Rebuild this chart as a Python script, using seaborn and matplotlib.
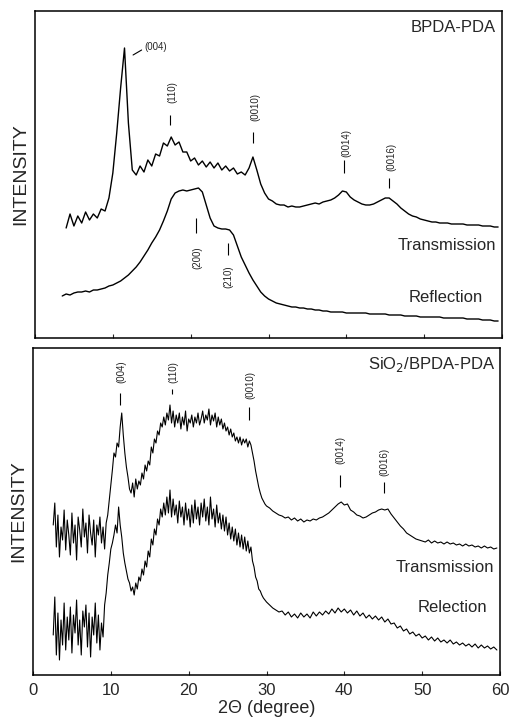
import numpy as np
import matplotlib
matplotlib.use("Agg")
import matplotlib.pyplot as plt
import seaborn as sns

# BPDA-PDA scans: start angle and step (degrees 2-theta)
top_trans_start, top_refl_start, top_step = 4.0, 3.5, 0.5

# BPDA-PDA, transmission (a.u.)
top_trans = [110, 124, 112, 122, 115, 126, 118, 124, 120, 129, 127, 140, 165, 205, 250, 290,
             215, 168, 163, 172, 166, 178, 172, 184, 182, 195, 192, 201, 193, 196, 186, 186,
             177, 180, 173, 177, 171, 176, 170, 175, 168, 172, 167, 170, 164, 166, 163, 170,
             181, 168, 154, 145, 139, 137, 134, 133, 133, 131, 132, 131, 131, 132, 133, 134,
             135, 134, 136, 137, 138, 140, 143, 147, 146, 141, 138, 136, 134, 133, 133, 134,
             136, 138, 140, 140, 137, 134, 130, 127, 124, 122, 121, 119, 118, 117, 116, 116,
             115, 115, 115, 114, 114, 114, 114, 113, 113, 113, 113, 112, 112, 112, 111, 111]

# BPDA-PDA, reflection (a.u.)
top_refl = [42, 44, 43, 45, 46, 46, 47, 46, 48, 48, 49, 50, 52, 53, 55, 57, 60, 63, 67, 71,
            76, 82, 88, 95, 101, 108, 117, 127, 139, 145, 147, 148, 147, 148, 149, 150, 146,
            133, 120, 112, 110, 109, 109, 108, 103, 92, 81, 73, 65, 58, 52, 46, 42, 39, 37,
            35, 34, 33, 32, 31, 31, 30, 30, 29, 29, 28, 28, 27, 27, 26, 26, 26, 26, 25, 25,
            25, 25, 25, 25, 24, 24, 24, 24, 24, 23, 23, 23, 23, 22, 22, 22, 22, 21, 21, 21,
            21, 21, 21, 20, 20, 20, 20, 20, 20, 19, 19, 19, 19, 18, 18, 18, 17, 17]

# SiO2/BPDA-PDA scans: fine part 2.6-30.0 (step 0.2), coarse part 30.4-59.6 (step 0.4)
bot_fine_start, bot_fine_step = 2.6, 0.2
bot_coarse_start, bot_coarse_step = 30.4, 0.4

bot_trans_fine = [150, 172, 128, 160, 118, 148, 135, 165, 125, 155,
                  140, 120, 162, 132, 150, 115, 158, 145, 128, 166,
                  138, 152, 122, 160, 142, 130, 155, 118, 150, 140,
                  158, 132, 148, 126, 152, 160, 175, 190, 205, 222,
                  218, 232, 228, 248, 262, 240, 222, 208, 198, 186,
                  182, 192, 178, 196, 186, 194, 190, 202, 196, 210,
                  204, 214, 210, 228, 222, 236, 232, 244, 240, 252,
                  248, 258, 250, 262, 255, 270, 252, 264, 248, 260,
                  252, 262, 246, 258, 250, 264, 244, 256, 252, 260,
                  248, 258, 252, 262, 250, 256, 264, 252, 260, 255,
                  266, 250, 260, 254, 262, 248, 258, 250, 256, 246,
                  252, 244, 248, 240, 246, 238, 242, 234, 238, 232,
                  238, 230, 236, 232, 236, 228, 234, 230, 222, 214,
                  204, 196, 188, 182, 177, 174, 171, 169]
bot_trans_coarse = [167, 164, 162, 160, 159, 157, 158, 155, 157, 154,
                    156, 153, 155, 154, 156, 155, 157, 158, 160, 162,
                    165, 168, 171, 173, 170, 171, 165, 163, 160, 159,
                    157, 158, 160, 162, 163, 165, 166, 165, 166, 161,
                    157, 153, 149, 146, 142, 140, 138, 136, 135, 134,
                    133, 135, 132, 134, 132, 133, 131, 133, 131, 132,
                    130, 131, 129, 131, 129, 130, 128, 129, 127, 129,
                    127, 128, 126, 127]

bot_refl_fine = [40, 78, 20, 62, 15, 55, 30, 72, 25, 58,
                 35, 68, 22, 60, 42, 75, 30, 55, 20, 64,
                 48, 70, 28, 62, 18, 58, 40, 72, 32, 60,
                 25, 52, 38, 70, 82, 100, 112, 126, 132, 140,
                 150, 142, 168, 150, 138, 122, 112, 104, 96, 92,
                 84, 88, 80, 92, 86, 98, 94, 106, 100, 114,
                 108, 124, 118, 136, 130, 146, 140, 156, 150, 166,
                 158, 172, 160, 178, 162, 185, 158, 176, 160, 170,
                 152, 174, 158, 168, 150, 172, 155, 166, 148, 170,
                 152, 175, 156, 168, 150, 172, 158, 176, 154, 168,
                 150, 178, 156, 166, 148, 170, 152, 162, 146, 160,
                 144, 158, 140, 152, 136, 148, 134, 146, 130, 142,
                 128, 140, 126, 138, 124, 134, 122, 128, 114, 108,
                 98, 94, 86, 84, 80, 77, 75, 73]
bot_refl_coarse = [70, 67, 65, 63, 64, 60, 63, 58, 61, 57,
                   62, 58, 61, 57, 63, 59, 63, 60, 64, 61,
                   66, 62, 67, 63, 66, 62, 65, 60, 64, 59,
                   62, 57, 60, 56, 59, 55, 58, 53, 56, 51,
                   52, 47, 49, 44, 46, 41, 43, 39, 41, 37,
                   39, 35, 38, 34, 37, 33, 35, 32, 35, 31,
                   33, 30, 32, 29, 31, 28, 31, 27, 30, 27,
                   29, 26, 28, 25]

# reflection indices and their angles
top_up_hkl = ["(110)", "(0010)", "(0014)", "(0016)"]
top_up_pos = [17.4, 28.0, 39.7, 45.5]
top_dn_hkl = ["(200)", "(210)"]
top_dn_pos = [20.7, 24.8]
bot_hkl = ["(004)", "(110)", "(0010)", "(0014)", "(0016)"]
bot_pos = [11.2, 17.9, 27.8, 39.4, 45.1]


def scan(start, step, vals):
    return start + step * np.arange(len(vals)), np.asarray(vals, dtype=float)


def joined(fine, coarse):
    x1, y1 = scan(bot_fine_start, bot_fine_step, fine)
    x2, y2 = scan(bot_coarse_start, bot_coarse_step, coarse)
    return np.concatenate([x1, x2]), np.concatenate([y1, y2])


sns.set_style("white")
plt.rcParams["font.family"] = ["Liberation Sans", "DejaVu Sans"]

fig = plt.figure(figsize=(5.1, 7.22), dpi=100)
ax1 = fig.add_axes([35 / 510, 1 - 338 / 722, 467 / 510, 327 / 722])
ax2 = fig.add_axes([33 / 510, 1 - 675 / 722, 467 / 510, 327 / 722])

curves = [
    (ax1, scan(top_trans_start, top_step, top_trans), 1.0),
    (ax1, scan(top_refl_start, top_step, top_refl), 1.0),
    (ax2, joined(bot_trans_fine, bot_trans_coarse), 0.8),
    (ax2, joined(bot_refl_fine, bot_refl_coarse), 0.8),
]
for ax, (tt, yy), lw in curves:
    sns.lineplot(x=tt, y=yy, ax=ax, color="black", lw=lw, estimator=None, sort=False)

for ax in (ax1, ax2):
    ax.set_xlim(0, 60)
    ax.set_ylim(0, 327)
    ax.set_yticks([])
    ax.set_xticks([0, 10, 20, 30, 40, 50, 60])
    ax.tick_params(axis="x", direction="in", length=3, width=0.8, labelsize=12, pad=6,
                   top=False, bottom=True)
    for sp in ax.spines.values():
        sp.set_color("black")
        sp.set_linewidth(1.1)
    ax.set_ylabel("INTENSITY", fontsize=14, labelpad=4)
ax1.set_xticklabels([])
ax2.set_xlabel("2\u0398 (degree)", fontsize=13, labelpad=1)

kw = dict(fontsize=7, rotation=90, ha="center", va="center")

# top panel annotations
ax1.plot([12.6, 13.7], [283, 288], color="black", lw=0.8)
ax1.text(14.1, 291, "(004)", fontsize=7, ha="left", va="center")
for lab, x, t0, t1, ty in zip(top_up_hkl, top_up_pos, [213, 195, 165, 150],
                              [223, 206, 178, 160], [246, 231, 195, 181]):
    ax1.vlines(x, t0, t1, color="black", lw=0.8)
    ax1.text(x + 0.3, ty, lab, **kw)
for lab, x, t0, t1, ty in zip(top_dn_hkl, top_dn_pos, [105, 83], [120, 95], [80, 61]):
    ax1.vlines(x, t0, t1, color="black", lw=0.8)
    ax1.text(x + 0.1, ty, lab, **kw)
ax1.text(59.2, 310, "BPDA-PDA", fontsize=12, ha="right", va="center")
ax1.text(59.2, 93, "Transmission", fontsize=12, ha="right", va="center")
ax1.text(52.8, 41, "Reflection", fontsize=12, ha="center", va="center")

# bottom panel annotations
for lab, x, t0, t1, ty in zip(bot_hkl, bot_pos, [270, 281, 255, 188, 182],
                              [282, 286, 268, 200, 193], [303, 303, 290, 225, 213]):
    ax2.vlines(x, t0, t1, color="black", lw=0.8)
    ax2.text(x + 0.1, ty, lab, **kw)
ax2.text(59.4, 310, "SiO$_2$/BPDA-PDA", fontsize=12, ha="right", va="center")
ax2.text(59.2, 108, "Transmission", fontsize=12, ha="right", va="center")
ax2.text(53.9, 68, "Relection", fontsize=12, ha="center", va="center")

fig.savefig("out.png", dpi=100)
